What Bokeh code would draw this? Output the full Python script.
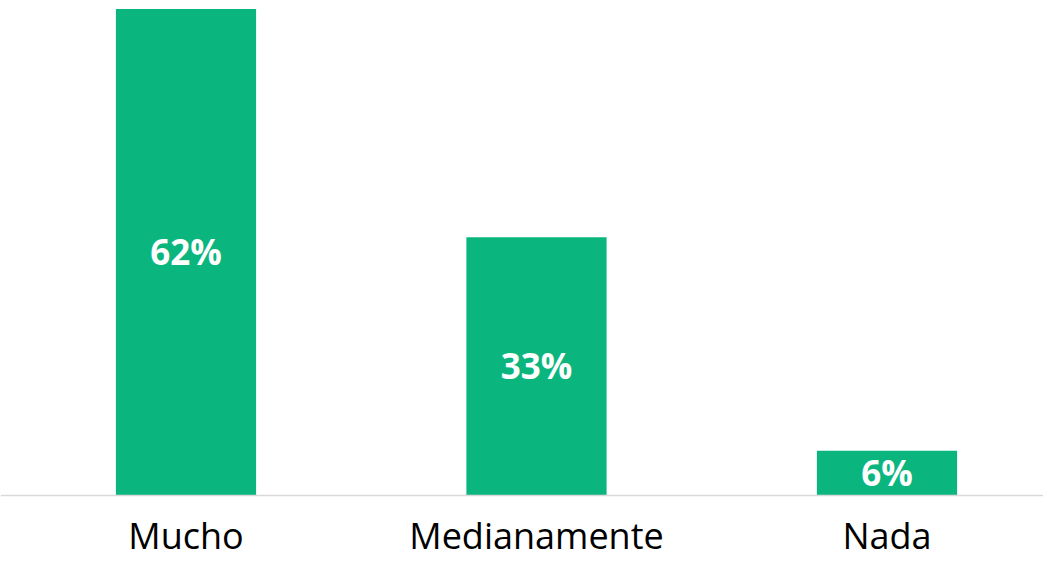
from bokeh.plotting import figure
from bokeh.models import Range1d, ColumnDataSource, Span
from bokeh.core.properties import value
from bokeh.embed import file_html
from bokeh.resources import INLINE

categories = ["Mucho", "Medianamente", "Nada"]
values = [62.0, 32.9, 5.7]
labels = ["62%", "33%", "6%"]

xs = list(range(len(categories)))
src = ColumnDataSource(dict(x=xs, top=values, mid=[v / 2 for v in values],
                            label=labels, cat=categories, zero=[0] * len(xs)))

p = figure(width=1043, height=560, output_backend="svg", toolbar_location=None,
           x_range=Range1d(-0.5292, 2.4465), y_range=Range1d(-8.283, 63.083),
           x_axis_location=None, y_axis_location=None,
           min_border=0, min_border_left=0, min_border_right=0,
           min_border_top=0, min_border_bottom=0)
p.outline_line_color = None
p.xgrid.visible = False
p.ygrid.visible = False
p.background_fill_color = "white"
p.border_fill_color = "white"

p.vbar(x="x", top="top", width=0.4, bottom=0, source=src,
       fill_color="#0BB67E", line_color=None)
p.add_layout(Span(location=0, dimension="width", line_color="#D9D9D9", line_width=1.5))

p.text(x="x", y="mid", text="label", source=src, text_align="center",
       text_baseline="middle", text_color="white", y_offset=-1,
       text_font=value("Open Sans"), text_font_style="bold", text_font_size="35px")

p.text(x="x", y="zero", text="cat", source=src, text_align="center",
       text_baseline="middle", text_color="black", y_offset=40,
       text_font=value("Open Sans"), text_font_size="36px")

open("out.html", "w").write(file_html(p, INLINE))
